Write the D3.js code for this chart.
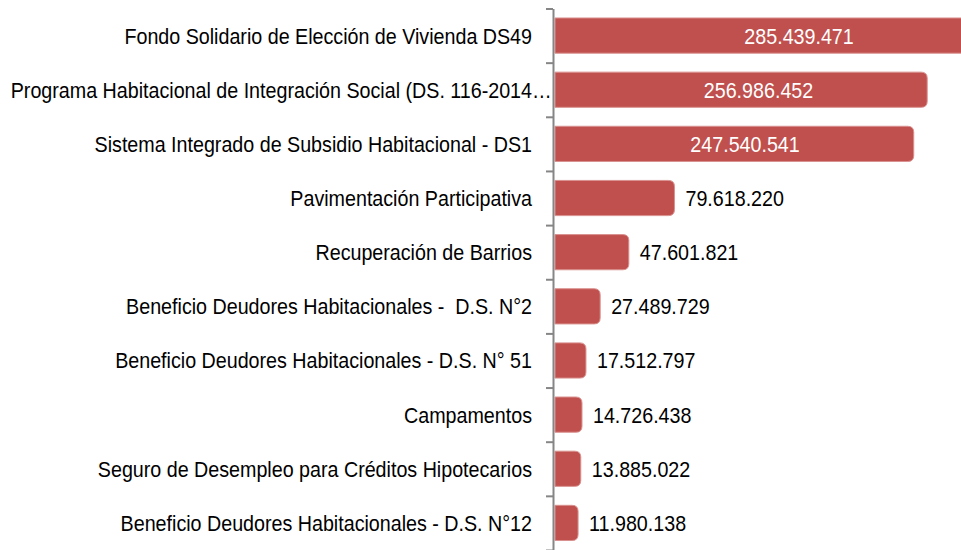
<!DOCTYPE html>
<html>
<head>
<meta charset="utf-8">
<script src="https://cdn.jsdelivr.net/npm/d3@7"></script>
<style>
  body { margin: 0; background: #fff; }
  text { font-family: "Liberation Sans", Arial, sans-serif; white-space: pre; }
</style>
</head>
<body>
<div id="chart"></div>
<script>
// data
var programas = [
  "Fondo Solidario de Elección de Vivienda DS49",
  "Programa Habitacional de Integración Social (DS. 116-2014…",
  "Sistema Integrado de Subsidio Habitacional - DS1",
  "Pavimentación Participativa",
  "Recuperación de Barrios",
  "Beneficio Deudores Habitacionales -  D.S. N°2",
  "Beneficio Deudores Habitacionales - D.S. N° 51",
  "Campamentos",
  "Seguro de Desempleo para Créditos Hipotecarios",
  "Beneficio Deudores Habitacionales - D.S. N°12"
];
var montos = [285439471, 256986452, 247540541, 79618220, 47601821,
              27489729, 17512797, 14726438, 13885022, 11980138];

var width = 961, height = 550;
var axisX = 553;
var fontSize = 22.5, squeeze = 0.875;   // text in the picture is a bit narrow
var barColor = "#c0504d";

var svg = d3.select("#chart").append("svg")
    .attr("width", width)
    .attr("height", height)
    .style("display", "block");

var x = d3.scaleLinear()
    .domain([0, 300000000])
    .range([561, 988.5]);

var y = d3.scaleBand()
    .domain(d3.range(programas.length))
    .range([8.5, 550])
    .paddingInner(0.35)
    .paddingOuter(0.175);

// edges of the bands, for the tick marks
var yEdge = d3.scaleLinear()
    .domain([0, programas.length])
    .range([8.5, 550]);

var fmt = function(v) {
  return d3.format(",")(v).replace(/,/g, ".");
};

function barPath(v, i) {
  var x0 = x(0) - 6, x1 = x(v), y0 = y(i), h = y.bandwidth(), r = 6;
  return "M" + x0 + "," + y0 +
    "H" + (x1 - r) +
    "Q" + x1 + "," + y0 + " " + x1 + "," + (y0 + r) +
    "V" + (y0 + h - r) +
    "Q" + x1 + "," + (y0 + h) + " " + (x1 - r) + "," + (y0 + h) +
    "H" + x0 + "Z";
}

// bars
svg.append("g")
  .selectAll("path")
  .data(montos)
  .enter()
  .append("path")
    .attr("d", function(d, i) { return barPath(d, i); })
    .attr("fill", barColor)
    .attr("stroke", "#d9918f")
    .attr("stroke-width", 1);

// axis with ticks between the categories
var yAxis = d3.axisLeft(yEdge)
    .tickValues(d3.range(programas.length + 1))
    .tickFormat("")
    .tickSize(7)
    .tickSizeOuter(0);

var ax = svg.append("g")
    .attr("transform", "translate(" + axisX + ",0)")
    .call(yAxis);
ax.select(".domain").attr("stroke", "#868686").attr("stroke-width", 2);
ax.selectAll(".tick line").attr("stroke", "#868686").attr("stroke-width", 2);

function squeezed(sel, px, py) {
  sel.attr("x", 0).attr("y", 0)
     .attr("transform", "translate(" + px + "," + py + ") scale(" + squeeze + ",1)")
     .attr("font-size", fontSize);
}

// category labels
var labels = svg.append("g");
programas.forEach(function(p, i) {
  var cy = y(i) + y.bandwidth() / 2 + 8;
  var cut = p.endsWith("…");
  var t = labels.append("text")
      .attr("text-anchor", "end")
      .attr("fill", "#000")
      .text(cut ? p.slice(0, -1) : p);
  squeezed(t, 532, cy);
  if (cut) {
    var e = labels.append("text")
        .attr("text-anchor", "start")
        .attr("fill", "#000")
        .text("…");
    squeezed(e, 532, cy);
  }
});

// value labels
var insideMin = 200000000;
var values = svg.append("g");
montos.forEach(function(v, i) {
  var cy = y(i) + y.bandwidth() / 2 + 8;
  var inside = v >= insideMin;
  var t = values.append("text")
      .attr("text-anchor", inside ? "end" : "start")
      .attr("fill", inside ? "#fff" : "#000")
      .text(fmt(v));
  squeezed(t, inside ? x(v) - 114 : x(v) + 11, cy);
});
</script>
</body>
</html>
